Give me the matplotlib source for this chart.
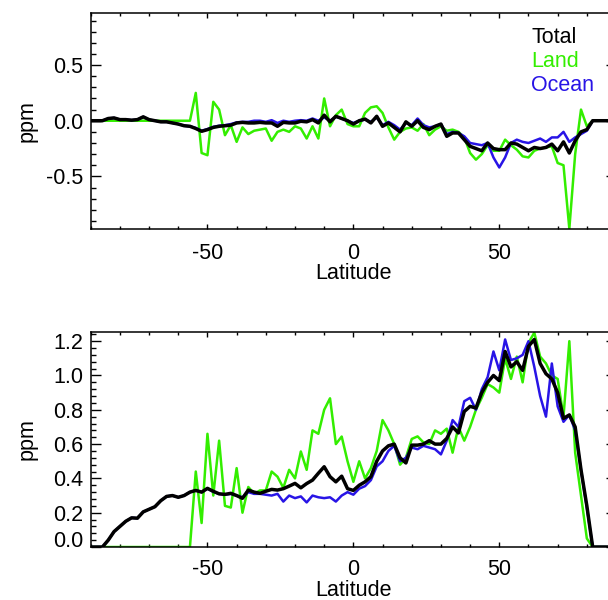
import numpy as np
import matplotlib
matplotlib.use('Agg')
import matplotlib.pyplot as plt
from matplotlib.ticker import MultipleLocator
from matplotlib.transforms import ScaledTranslation

plt.rcParams['font.family'] = ['Liberation Sans', 'DejaVu Sans']
plt.rcParams['axes.unicode_minus'] = False

# latitude grid (deg), 2 degree steps
lat = np.arange(-90, 91, 2)

# --- upper panel (ppm) ---
top_total = [0, 0, 0, 0.02, 0.025, 0.01, 0.01, 0.005, 0.01, 0.035,
             0.01, 0.0, -0.01, -0.01, -0.02, -0.03, -0.045, -0.05, -0.07, -0.095,
             -0.08, -0.06, -0.05, -0.045, -0.04, -0.02, -0.015, -0.02, -0.02, -0.015,
             -0.02, -0.02, -0.05, -0.015, -0.02, -0.02, -0.005, -0.01, 0.01, -0.02,
             0.05, -0.01, 0.04, 0.02, 0.0, -0.03, 0.0, 0.015, -0.02, 0.04,
             -0.05, -0.02, -0.06, -0.1, -0.01, -0.05, 0.0, -0.06, -0.08, -0.05,
             -0.03, -0.14, -0.11, -0.11, -0.17, -0.23, -0.25, -0.27, -0.2, -0.25,
             -0.26, -0.26, -0.2, -0.21, -0.24, -0.27, -0.24, -0.25, -0.24, -0.21,
             -0.27, -0.19, -0.29, -0.18, -0.1, -0.08, 0, 0, 0, 0,
             0]
top_land = [0, 0, 0, 0, 0, 0, 0, 0, 0, 0,
            0, 0, 0, 0, 0, 0, 0, 0, 0.25, -0.29,
            -0.31, 0.17, 0.1, -0.13, -0.04, -0.19, -0.06, -0.12, -0.09, -0.08,
            -0.07, -0.18, -0.1, -0.08, -0.1, -0.05, -0.07, -0.16, -0.05, -0.16,
            0.2, -0.05, 0.05, 0.1, -0.03, -0.05, -0.05, 0.07, 0.12, 0.13,
            0.07, -0.06, -0.17, -0.1, -0.07, -0.06, -0.09, -0.03, -0.13, -0.08,
            -0.05, -0.09, -0.08, -0.1, -0.15, -0.29, -0.35, -0.3, -0.22, -0.27,
            -0.27, -0.17, -0.22, -0.26, -0.32, -0.33, -0.27, -0.25, -0.24, -0.23,
            -0.38, -0.4, -0.97, -0.3, 0.1, -0.05, 0, 0, 0, 0,
            0]
top_ocean = [0, 0, 0, 0.02, 0.025, 0.01, 0.01, 0.005, 0.01, 0.035,
             0.01, 0.0, -0.01, -0.01, -0.02, -0.03, -0.045, -0.05, -0.065, -0.09,
             -0.075, -0.055, -0.045, -0.04, -0.03, -0.015, -0.01, -0.01, 0.0, 0.0,
             -0.01, 0.005, -0.02, 0.0, -0.01, 0.0, 0.005, 0.0, 0.02, 0.0,
             0.03, 0.0, 0.035, 0.02, 0.0, -0.02, 0.0, 0.01, -0.01, 0.03,
             -0.04, -0.01, -0.04, -0.08, -0.02, -0.04, 0.02, -0.04, -0.06, -0.05,
             -0.03, -0.12, -0.1, -0.11, -0.14, -0.2, -0.21, -0.22, -0.2, -0.33,
             -0.42, -0.33, -0.2, -0.17, -0.19, -0.2, -0.18, -0.16, -0.19, -0.15,
             -0.15, -0.1, -0.19, -0.15, -0.12, -0.09, 0, 0, 0, 0,
             0]

# --- lower panel (ppm) ---
bot_total = [0, 0, 0, 0.04, 0.09, 0.12, 0.15, 0.17, 0.168, 0.205,
             0.22, 0.235, 0.27, 0.295, 0.3, 0.29, 0.3, 0.32, 0.33, 0.32,
             0.342, 0.325, 0.31, 0.307, 0.313, 0.3, 0.284, 0.332, 0.32, 0.313,
             0.325, 0.336, 0.332, 0.34, 0.355, 0.371, 0.345, 0.37, 0.39, 0.43,
             0.468, 0.41, 0.38, 0.413, 0.34, 0.33, 0.36, 0.38, 0.41, 0.5,
             0.56, 0.59, 0.6, 0.52, 0.49, 0.594, 0.594, 0.6, 0.62, 0.6,
             0.6, 0.633, 0.7, 0.665, 0.79, 0.82, 0.81, 0.9, 0.96, 1.0,
             0.97, 1.14, 1.05, 1.08, 1.03, 1.17, 1.21, 1.07, 1.01, 0.98,
             0.9, 0.75, 0.77, 0.7, 0.45, 0.24, 0, 0, 0, 0,
             0]
bot_land = [0, 0, 0, 0, 0, 0, 0, 0, 0, 0,
            0, 0, 0, 0, 0, 0, 0, 0, 0.44, 0.14,
            0.66, 0.3, 0.62, 0.24, 0.23, 0.46, 0.2, 0.35, 0.31, 0.33,
            0.33, 0.44, 0.41, 0.345, 0.45, 0.4, 0.557, 0.45, 0.68, 0.66,
            0.8, 0.867, 0.6, 0.644, 0.5, 0.38, 0.5, 0.4, 0.46, 0.56,
            0.74, 0.68, 0.6, 0.48, 0.52, 0.63, 0.645, 0.61, 0.6, 0.68,
            0.66, 0.69, 0.55, 0.7, 0.62, 0.7, 0.8, 0.87, 0.95, 0.93,
            0.9, 1.1, 0.98, 1.11, 0.96, 1.19, 1.25, 1.11, 1.07, 1.0,
            0.98, 0.76, 1.2, 0.55, 0.3, 0.05, 0, 0, 0, 0,
            0]
bot_ocean = [0, 0, 0, 0.04, 0.09, 0.12, 0.15, 0.17, 0.168, 0.205,
             0.22, 0.235, 0.27, 0.295, 0.3, 0.29, 0.3, 0.32, 0.33, 0.32,
             0.34, 0.322, 0.31, 0.305, 0.31, 0.3, 0.29, 0.32, 0.31, 0.31,
             0.305, 0.3, 0.31, 0.265, 0.3, 0.285, 0.295, 0.26, 0.3, 0.29,
             0.285, 0.29, 0.265, 0.3, 0.32, 0.305, 0.34, 0.355, 0.39, 0.47,
             0.5, 0.56, 0.59, 0.5, 0.52, 0.58, 0.57, 0.59, 0.58, 0.57,
             0.54, 0.62, 0.74, 0.7, 0.85, 0.87, 0.8, 0.92, 0.99, 1.14,
             1.03, 1.21, 1.09, 1.1, 1.12, 1.2, 1.05, 0.88, 0.76, 1.07,
             0.82, 0.73, 0.77, 0.68, 0.45, 0.23, 0, 0, 0, 0,
             0]

legend_names = ['Total', 'Land', 'Ocean']

GREEN = '#33ee00'
BLUE = '#2814e6'
FS = 15.5


def style_axes(ax, xpad, xlabel_y):
    ax.set_xlim(-90, 90)
    ax.xaxis.set_major_locator(MultipleLocator(50))
    ax.xaxis.set_minor_locator(MultipleLocator(10))
    ax.tick_params(which='both', direction='in', top=True, right=True,
                   labelsize=FS, width=1.0, color='black')
    ax.tick_params(axis='x', which='major', length=3.8, pad=xpad)
    ax.tick_params(axis='x', which='minor', length=2.3)
    ax.tick_params(axis='y', which='major', length=7.2, pad=5.3)
    ax.tick_params(axis='y', which='minor', length=3.4)
    for sp in ax.spines.values():
        sp.set_linewidth(1.1)
    ax.set_xlabel('Latitude', fontsize=FS)
    ax.set_ylabel('ppm', fontsize=FS)
    ax.xaxis.set_label_coords(0.5, xlabel_y)
    ax.yaxis.set_label_coords(-0.102, 0.5)


def main():
    fig = plt.figure(figsize=(6.08, 6.0), dpi=100)
    # the right edge of both panels runs slightly past the image border
    ax1 = fig.add_axes([0.1492, 0.6183, 0.864, 0.3595])
    ax2 = fig.add_axes([0.1492, 0.0883, 0.864, 0.3588])

    panels = ((ax1, top_land, top_ocean, top_total, 10.3, -0.158),
              (ax2, bot_land, bot_ocean, bot_total, 8.6, -0.152))
    for ax, land, ocean, total, xpad, ly in panels:
        ax.plot(lat, land, color=GREEN, lw=1.8)
        ax.plot(lat, ocean, color=BLUE, lw=1.8)
        ax.plot(lat, total, color='black', lw=2.5)
        style_axes(ax, xpad, ly)

    # upper panel axis
    ax1.set_ylim(-0.973, 0.965)
    ax1.yaxis.set_major_locator(MultipleLocator(0.5))
    ax1.yaxis.set_minor_locator(MultipleLocator(0.1))
    ax1.yaxis.set_major_formatter(lambda v, p: f'{v:.1f}')

    # lower panel axis, 0.0 label sits a little above its tick
    ax2.set_ylim(0, 1.255)
    yt = [0.0, 0.2, 0.4, 0.6, 0.8, 1.0, 1.2]
    ax2.set_yticks(yt)
    ax2.set_yticklabels([''] + [f'{v:.1f}' for v in yt[1:]])
    ax2.yaxis.set_minor_locator(MultipleLocator(0.04))
    trans, va, ha = ax2.get_yaxis_text1_transform(5.3)
    ax2.text(0, yt[0], f'{yt[0]:.1f}', fontsize=FS, va=va, ha=ha,
             transform=trans + ScaledTranslation(0, 0.08, fig.dpi_scale_trans))

    # legend as coloured words
    for name, col, y in zip(legend_names, ['black', GREEN, BLUE], [0.864, 0.752, 0.641]):
        ax1.text(0.839, y, name, color=col, fontsize=FS, va='baseline', ha='left',
                 transform=ax1.transAxes)

    fig.savefig('out.png', dpi=100)


if __name__ == '__main__':
    main()
